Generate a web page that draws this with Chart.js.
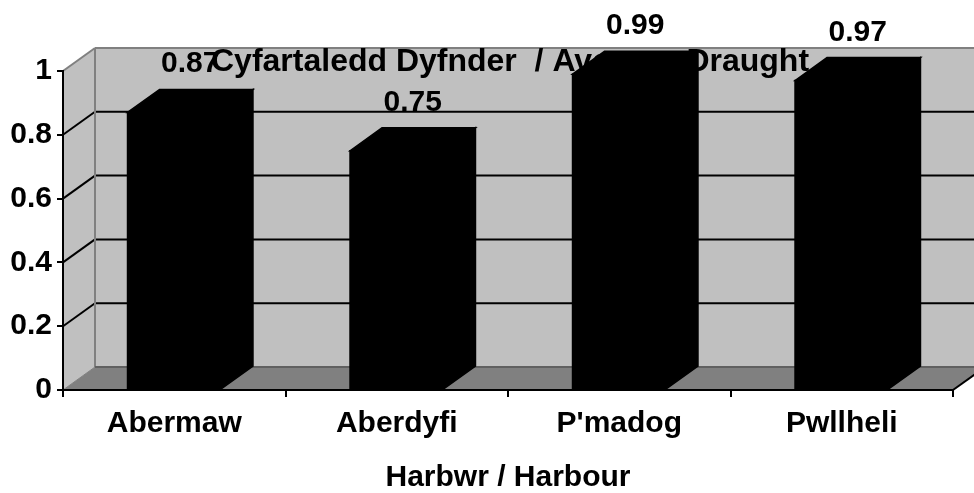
<!DOCTYPE html>
<html>
<head>
<meta charset="utf-8">
<script src="https://cdn.jsdelivr.net/npm/chart.js@4"></script>
<style>
  html, body { margin: 0; padding: 0; background: #fff; }
  .chart-box { width: 974px; height: 493px; position: relative; }
</style>
</head>
<body>
<div class="chart-box"><canvas id="draughtChart"></canvas></div>
<script>
// ===============================
// Data
// ===============================
const harbours = ["Abermaw", "Aberdyfi", "P'madog", "Pwllheli"];
const avgDraught = [0.87, 0.75, 0.99, 0.97];
const yTicks = [0, 0.2, 0.4, 0.6, 0.8, 1];
const chartTitle = "Cyfartaledd Dyfnder  / Average Draught";
const xTitle = "Harbwr / Harbour";

// ===============================
// 3D look
// ===============================
const depthX = 32;
const depthY = -23;
const wallColor = "#c0c0c0";
const floorColor = "#808080";
const edgeColor = "#808080";
const fontFamily = "'Liberation Sans', Arial, sans-serif";

Chart.defaults.font.family = fontFamily;
Chart.defaults.color = "#000";

function line(ctx, x1, y1, x2, y2, color, width) {
  ctx.strokeStyle = color;
  ctx.lineWidth = width;
  ctx.beginPath();
  ctx.moveTo(x1, y1);
  ctx.lineTo(x2, y2);
  ctx.stroke();
}

function poly(ctx, pts, color, stroke) {
  ctx.fillStyle = color;
  ctx.beginPath();
  ctx.moveTo(pts[0][0], pts[0][1]);
  pts.slice(1).forEach(p => ctx.lineTo(p[0], p[1]));
  ctx.closePath();
  ctx.fill();
  if (stroke) {
    ctx.strokeStyle = color;
    ctx.lineWidth = 1.5;
    ctx.stroke();
  }
}

// walls + floor + gridlines, under the axes
const wallsPlugin = {
  id: "walls",
  beforeDraw(chart) {
    const { ctx, chartArea: a, scales } = chart;
    const L = a.left, R = a.right, T = a.top, B = a.bottom;
    ctx.save();

    // left wall
    poly(ctx, [[L, T], [L + depthX, T + depthY], [L + depthX, B + depthY], [L, B]], wallColor);
    // back wall
    poly(ctx, [[L + depthX, T + depthY], [R + depthX, T + depthY], [R + depthX, B + depthY], [L + depthX, B + depthY]], wallColor);
    // floor
    poly(ctx, [[L, B], [R, B], [R + depthX, B + depthY], [L + depthX, B + depthY]], floorColor);

    // gridlines
    yTicks.forEach(v => {
      if (v === 0 || v === yTicks[yTicks.length - 1]) return;
      const py = scales.y.getPixelForValue(v);
      line(ctx, L + depthX, py + depthY, R + depthX, py + depthY, "#000", 2);
      line(ctx, L, py, L + depthX, py + depthY, "#000", 2);
    });

    // edges
    line(ctx, L + depthX, T + depthY, R + depthX, T + depthY, edgeColor, 2);
    line(ctx, L, T, L + depthX, T + depthY, edgeColor, 2);
    line(ctx, L + depthX, T + depthY, L + depthX, B + depthY, edgeColor, 2);
    line(ctx, L + depthX, B + depthY, R + depthX, B + depthY, "#606060", 2);
    line(ctx, L, B, L + depthX, B + depthY, edgeColor, 1);
    line(ctx, R, B, R + depthX, B + depthY, "#000", 2);

    ctx.restore();
  },

  // title sits behind the bars
  beforeDatasetsDraw(chart) {
    const { ctx, chartArea: a } = chart;
    ctx.save();
    ctx.font = "bold 32px " + fontFamily;
    ctx.fillStyle = "#000";
    ctx.textAlign = "center";
    ctx.textBaseline = "alphabetic";
    ctx.fillText(chartTitle, (a.left + a.right) / 2 + 2, a.top);
    ctx.restore();
  },

  // top and side faces of each column, then value labels
  afterDatasetsDraw(chart) {
    const { ctx } = chart;
    const meta = chart.getDatasetMeta(0);
    ctx.save();
    meta.data.forEach((bar, i) => {
      const { x, y, base, width } = bar.getProps(["x", "y", "base", "width"], true);
      const l = x - width / 2, r = x + width / 2;
      poly(ctx, [[l, y], [r, y], [r, base], [l, base]], "#000", true);
      poly(ctx, [[l, y], [l + depthX, y + depthY], [r + depthX, y + depthY], [r, y]], "#000", true);
      poly(ctx, [[r, y], [r + depthX, y + depthY], [r + depthX, base + depthY], [r, base]], "#000", true);

      ctx.font = "bold 30px " + fontFamily;
      ctx.fillStyle = "#000";
      ctx.textAlign = "center";
      ctx.textBaseline = "alphabetic";
      ctx.fillText(String(avgDraught[i]), x + depthX / 2, y + depthY - 17);
    });
    ctx.restore();
  }
};

// ===============================
// Chart
// ===============================
const ctx = document.getElementById("draughtChart");
new Chart(ctx, {
  type: "bar",
  data: {
    labels: harbours,
    datasets: [{
      label: chartTitle,
      data: avgDraught,
      backgroundColor: "#000",
      borderWidth: 0,
      barPercentage: 0.42,
      categoryPercentage: 1
    }]
  },
  options: {
    responsive: true,
    maintainAspectRatio: false,
    devicePixelRatio: 1,
    animation: false,
    layout: { padding: { top: 71, right: 21, left: 0, bottom: 0 } },
    plugins: {
      legend: { display: false },
      tooltip: { enabled: false }
    },
    scales: {
      x: {
        offset: true,
        afterFit: s => { s.height = 103; },
        grid: { drawOnChartArea: false, tickLength: 7, color: "#000", lineWidth: 2 },
        border: { color: "#000", width: 2 },
        ticks: { padding: 9, font: { size: 30, weight: "bold" } },
        title: {
          display: true,
          text: xTitle,
          padding: { top: 0, bottom: -3 },
          font: { size: 30, weight: "bold" }
        }
      },
      y: {
        min: 0,
        max: 1,
        afterFit: s => { s.width = 63; },
        afterBuildTicks: s => { s.ticks = yTicks.map(v => ({ value: v })); },
        grid: { drawOnChartArea: false, tickLength: 6, color: "#000", lineWidth: 2 },
        border: { color: "#000", width: 2 },
        ticks: {
          padding: 5,
          font: { size: 30, weight: "bold" },
          callback: v => String(v)
        }
      }
    }
  },
  plugins: [wallsPlugin]
});
</script>
</body>
</html>
